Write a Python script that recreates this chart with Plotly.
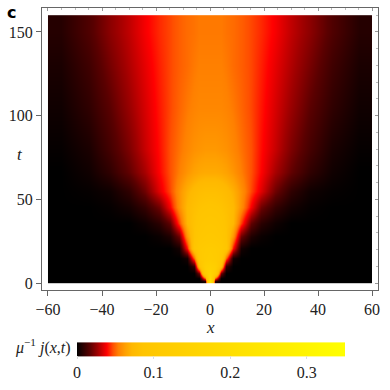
import plotly.graph_objects as go

# ---- data ----
x_vals = [-55, -45, -37, -30, -24, -19, -15, -11.5, -8.5, -6, -4, -2, 0,
          2, 4, 6, 8.5, 11.5, 15, 19, 24, 30, 37, 45, 55]
t_vals = [1, 3, 6, 10, 15, 21, 28, 36, 45, 55, 66, 80, 105, 130, 150]

j_t1 = [0, 0, 0, 0, 0, 0, 0, 0, 0, 0, 0, 0.005, 0.22, 0.005, 0, 0, 0, 0, 0, 0, 0, 0, 0, 0, 0]
j_t3 = [0, 0, 0, 0, 0, 0, 0, 0, 0, 0, 0, 0.05, 0.19, 0.05, 0, 0, 0, 0, 0, 0, 0, 0, 0, 0, 0]
j_t6 = [0, 0, 0, 0, 0, 0, 0, 0, 0, 0, 0.02, 0.12, 0.16, 0.12, 0.02, 0, 0, 0, 0, 0, 0, 0, 0, 0, 0]
j_t10 = [0, 0, 0, 0, 0, 0, 0, 0, 0, 0.01, 0.08, 0.13, 0.14, 0.13, 0.08, 0.01, 0, 0, 0, 0, 0, 0, 0, 0, 0]
j_t15 = [0, 0, 0, 0, 0, 0, 0, 0, 0.004, 0.05, 0.1, 0.115, 0.12, 0.115, 0.1, 0.05, 0.004, 0, 0, 0, 0, 0, 0, 0, 0]
j_t21 = [0, 0, 0, 0, 0, 0, 0, 0.004, 0.04, 0.09, 0.105, 0.112, 0.115, 0.112, 0.105, 0.09, 0.04, 0.004, 0, 0, 0, 0, 0, 0, 0]
j_t28 = [0, 0, 0, 0, 0, 0.002, 0.006, 0.02, 0.06, 0.085, 0.095, 0.099, 0.1, 0.099, 0.095, 0.085, 0.06, 0.02, 0.006, 0.002, 0, 0, 0, 0, 0]
j_t36 = [0, 0, 0, 0, 0.003, 0.008, 0.018, 0.045, 0.072, 0.084, 0.09, 0.094, 0.095, 0.094, 0.09, 0.084, 0.072, 0.045, 0.018, 0.008, 0.003, 0, 0, 0, 0]
j_t45 = [0, 0, 0.001, 0.004, 0.01, 0.02, 0.038, 0.058, 0.073, 0.081, 0.085, 0.087, 0.088, 0.087, 0.085, 0.081, 0.073, 0.058, 0.038, 0.02, 0.01, 0.004, 0.001, 0, 0]
j_t55 = [0, 0.001, 0.003, 0.009, 0.02, 0.035, 0.046, 0.059, 0.069, 0.075, 0.078, 0.08, 0.08, 0.08, 0.078, 0.075, 0.069, 0.059, 0.046, 0.035, 0.02, 0.009, 0.003, 0.001, 0]
j_t66 = [0, 0.003, 0.009, 0.018, 0.028, 0.039, 0.047, 0.054, 0.06, 0.064, 0.066, 0.067, 0.067, 0.067, 0.066, 0.064, 0.06, 0.054, 0.047, 0.039, 0.028, 0.018, 0.009, 0.003, 0]
j_t80 = [0.001, 0.005, 0.013, 0.022, 0.032, 0.04, 0.047, 0.052, 0.056, 0.059, 0.06, 0.061, 0.061, 0.061, 0.06, 0.059, 0.056, 0.052, 0.047, 0.04, 0.032, 0.022, 0.013, 0.005, 0.001]
j_t105 = [0.003, 0.009, 0.017, 0.026, 0.034, 0.041, 0.046, 0.05, 0.053, 0.055, 0.056, 0.056, 0.056, 0.056, 0.056, 0.055, 0.053, 0.05, 0.046, 0.041, 0.034, 0.026, 0.017, 0.009, 0.003]
j_t130 = [0.005, 0.012, 0.021, 0.029, 0.036, 0.042, 0.046, 0.049, 0.051, 0.053, 0.054, 0.054, 0.054, 0.054, 0.054, 0.053, 0.051, 0.049, 0.046, 0.042, 0.036, 0.029, 0.021, 0.012, 0.005]
j_t150 = [0.007, 0.015, 0.024, 0.031, 0.038, 0.043, 0.046, 0.049, 0.051, 0.052, 0.053, 0.053, 0.053, 0.053, 0.053, 0.052, 0.051, 0.049, 0.046, 0.043, 0.038, 0.031, 0.024, 0.015, 0.007]

j_rows = [j_t1, j_t3, j_t6, j_t10, j_t15, j_t21, j_t28, j_t36, j_t45, j_t55,
          j_t66, j_t80, j_t105, j_t130, j_t150]

x_ticks = [-60, -40, -20, 0, 20, 40, 60]
t_ticks = [0, 50, 100, 150]
cbar_ticks = [0, 0.1, 0.2, 0.3]
j_max = 0.35

# ---- styling ----
colorscale = [
    [0.0, "#000000"],
    [0.0486, "#5a0000"],
    [0.0771, "#a00000"],
    [0.1114, "#ff0000"],
    [0.1343, "#ff5000"],
    [0.1543, "#ff8000"],
    [0.18, "#ffa000"],
    [0.2057, "#ffb800"],
    [0.2457, "#ffc400"],
    [0.2857, "#ffc800"],
    [1.0, "#ffff00"],
]

serif = "'Liberation Serif', 'DejaVu Serif', serif"
axcol = "#666666"
txtcol = "#222222"

L, R, T, B = 42, 12, 8, 100
W = H = 390
PW = W - L - R
PH = H - T - B


def px(x):
    return (x - L) / PW


def py(y):
    return (H - B - y) / PH


fig = go.Figure()
fig.add_trace(go.Heatmap(
    x=x_vals, y=t_vals, z=j_rows,
    zmin=0, zmax=j_max, zsmooth="best",
    colorscale=colorscale,
    colorbar=dict(
        orientation="h",
        xref="paper", yref="paper",
        x=px(77 - 10), xanchor="left",
        y=py(362), yanchor="middle",
        len=268 + 20, lenmode="pixels",
        thickness=14,
        xpad=10, ypad=0,
        outlinewidth=0,
        tickvals=cbar_ticks,
        ticktext=["0", "0.1", "0.2", "0.3"],
        ticks="outside", ticklen=3, tickcolor="#dddddd",
        tickfont=dict(family=serif, size=16, color=txtcol),
    ),
    hoverinfo="skip",
))

fig.update_layout(
    width=W, height=H,
    margin=dict(l=L, r=R, t=T, b=B, autoexpand=False),
    paper_bgcolor="white", plot_bgcolor="white",
    showlegend=False,
    xaxis=dict(
        range=[-62.22, 62.22], tickvals=x_ticks,
        ticktext=["\u221260", "\u221240", "\u221220", "0", "20", "40", "60"],
        ticks="outside", ticklen=5, tickcolor=axcol,
        showline=True, linecolor=axcol, linewidth=1, mirror=True,
        showgrid=False, zeroline=False, automargin=False,
        tickfont=dict(family=serif, size=16, color=txtcol),
    ),
    yaxis=dict(
        range=[-4.18, 164.3], tickvals=t_ticks,
        ticks="outside", ticklen=5, tickcolor=axcol,
        showline=True, linecolor=axcol, linewidth=1, mirror=True,
        showgrid=False, zeroline=False, automargin=False,
        tickfont=dict(family=serif, size=16, color=txtcol),
    ),
    xaxis2=dict(
        overlaying="x", side="top", range=[-62.22, 62.22],
        tickvals=x_ticks, showticklabels=False,
        ticks="inside", ticklen=3, tickcolor="#999999",
        minor=dict(dtick=5, tick0=0, ticks="inside", ticklen=2, tickcolor="#bbbbbb"),
        showgrid=False, zeroline=False, showline=False, automargin=False,
    ),
    yaxis2=dict(
        overlaying="y", side="right", range=[-4.18, 164.3],
        tickvals=t_ticks, showticklabels=False,
        ticks="inside", ticklen=3, tickcolor="#999999",
        minor=dict(dtick=10, tick0=0, ticks="inside", ticklen=2, tickcolor="#bbbbbb"),
        showgrid=False, zeroline=False, showline=False, automargin=False,
    ),
    annotations=[
        dict(text="<b>c</b>", xref="paper", yref="paper",
             x=px(11), y=py(12),
             xanchor="center", yanchor="middle", showarrow=False,
             font=dict(family="DejaVu Sans", size=16, color="black")),
        dict(text="<i>x</i>", xref="paper", yref="paper",
             x=px(210), y=py(327),
             xanchor="center", yanchor="middle", showarrow=False,
             font=dict(family=serif, size=17, color=txtcol)),
        dict(text="<i>t</i>", xref="paper", yref="paper",
             x=px(20), y=py(155),
             xanchor="center", yanchor="middle", showarrow=False,
             font=dict(family=serif, size=17, color=txtcol)),
        dict(text="<i>\u03bc</i><sup>\u22121</sup> <i>j</i>(<i>x</i>,<i>t</i>)",
             xref="paper", yref="paper",
             x=px(73), y=py(346),
             xanchor="right", yanchor="middle", showarrow=False,
             font=dict(family=serif, size=16, color=txtcol)),
    ],
)

# invisible trace so the overlay axes (inner mirrored ticks) get drawn
fig.add_trace(go.Scatter(x=[None], y=[None], xaxis="x2", yaxis="y2",
                         mode="markers", showlegend=False, hoverinfo="skip"))

fig.write_html("out.html",
               config={"displayModeBar": False},
               post_script="document.body.style.margin='0';document.body.style.overflow='hidden';")
